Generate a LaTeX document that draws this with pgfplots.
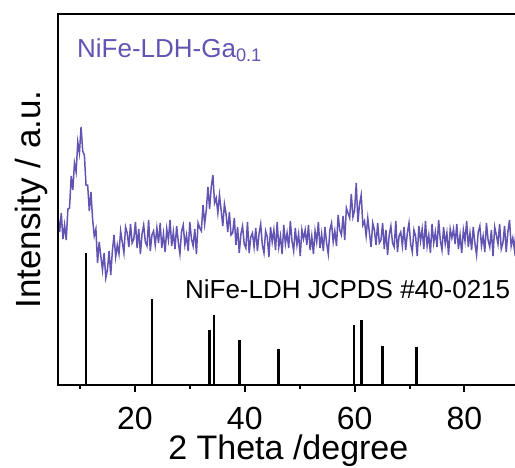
\documentclass[border=0pt]{standalone}
\usepackage{fontspec}
\setmainfont{Liberation Sans}
\usepackage{pgfplots}
\pgfplotsset{compat=1.18}
\definecolor{curve}{RGB}{98,84,178}
\begin{document}
\begin{tikzpicture}
\begin{axis}[name=ax,
  at={(0,0)}, anchor=south west,
  scale only axis, width=457pt, height=371pt,
  xmin=6, xmax=89.2, ymin=0, ymax=371,
  separate axis lines,
  axis x line=box, axis y line=left,
  x axis line style={line width=2.6pt, -},
  y axis line style={line width=2.6pt, -},
  xtick={20,40,60,80}, minor xtick={10,30,50,70,90},
  xtick pos=bottom, ytick=\empty,
  tick align=outside,
  major tick length=7pt, minor tick length=4pt,
  every tick/.style={black, line width=2pt},
  /pgf/number format/assume math mode=true,
  xticklabel style={font=\fontsize{32}{36}\selectfont, anchor=base, yshift=-37pt, inner sep=0pt},
  xlabel={2 Theta /degree},
  xlabel style={font=\fontsize{34}{40}\selectfont, at={(axis description cs:0.504,-0.2)}, anchor=base, inner sep=0pt},
  ylabel={Intensity / a.u.},
  ylabel style={font=\fontsize{35}{40}\selectfont, at={(axis description cs:-0.022,0.5)}, anchor=south, inner sep=0pt},
]
\addplot[ycomb, black, line width=2.8pt, no markers] coordinates {
(11.1,132) (23.1,86) (33.6,55) (34.4,70) (39.0,45) (46.1,36) (59.9,60) (61.2,65) (65.1,39) (71.3,38)
};
\addplot[curve, line width=1.5pt, no markers] coordinates {
(6.0,169) (6.3,153) (6.6,172) (6.9,146) (7.2,160) (7.5,145) (7.8,176) (8.1,177) (8.4,209) (8.7,195)
(9.0,222) (9.3,213) (9.6,243) (9.9,232) (10.2,258) (10.5,234) (10.8,230) (11.1,200) (11.4,200) (11.7,174)
(12.0,193) (12.3,166) (12.6,149) (12.9,156) (13.2,122) (13.5,143) (13.8,129) (14.1,115) (14.4,132) (14.7,107)
(15.0,115) (15.3,134) (15.6,110) (15.9,134) (16.2,150) (16.5,128) (16.8,140) (17.1,131) (17.4,154) (17.7,143)
(18.0,132) (18.3,158) (18.6,152) (18.9,138) (19.2,161) (19.5,142) (19.8,146) (20.1,163) (20.4,137) (20.7,156)
(21.0,131) (21.3,151) (21.6,160) (21.9,143) (22.2,139) (22.5,165) (22.8,134) (23.1,150) (23.4,154) (23.7,140)
(24.0,157) (24.3,142) (24.6,162) (24.9,137) (25.2,151) (25.5,133) (25.8,156) (26.1,145) (26.4,165) (26.7,139)
(27.0,153) (27.3,136) (27.6,159) (27.9,143) (28.2,131) (28.5,154) (28.8,160) (29.1,140) (29.4,150) (29.7,134)
(30.0,163) (30.3,146) (30.6,139) (30.9,156) (31.2,131) (31.5,162) (31.8,157) (32.1,154) (32.4,180) (32.7,161)
(33.0,175) (33.3,198) (33.6,176) (33.9,198) (34.2,210) (34.5,182) (34.8,187) (35.1,172) (35.4,190) (35.7,175)
(36.0,159) (36.3,181) (36.6,171) (36.9,153) (37.2,173) (37.5,150) (37.8,152) (38.1,167) (38.4,140) (38.7,158)
(39.0,132) (39.3,151) (39.6,159) (39.9,141) (40.2,137) (40.5,163) (40.8,132) (41.1,148) (41.4,152) (41.7,138)
(42.0,157) (42.3,134) (42.6,151) (42.9,161) (43.2,140) (43.5,132) (43.8,154) (44.1,148) (44.4,128) (44.7,158)
(45.0,143) (45.3,155) (45.6,135) (45.9,163) (46.2,138) (46.5,149) (46.8,131) (47.1,160) (47.4,141) (47.7,152)
(48.0,137) (48.3,164) (48.6,144) (48.9,134) (49.2,157) (49.5,140) (49.8,151) (50.1,129) (50.4,155) (50.7,146)
(51.0,155) (51.3,140) (51.6,160) (51.9,135) (52.2,149) (52.5,131) (52.8,154) (53.1,143) (53.4,163) (53.7,137)
(54.0,151) (54.3,134) (54.6,158) (54.9,142) (55.2,131) (55.5,155) (55.8,162) (56.1,143) (56.4,154) (56.7,139)
(57.0,170) (57.3,155) (57.6,150) (57.9,169) (58.2,145) (58.5,177) (58.8,172) (59.1,167) (59.4,191) (59.7,168)
(60.0,175) (60.3,202) (60.6,163) (60.9,181) (61.2,190) (61.5,160) (61.8,164) (62.1,149) (62.4,167) (62.7,152)
(63.0,138) (63.3,162) (63.6,155) (63.9,140) (64.2,162) (64.5,142) (64.8,145) (65.1,162) (65.4,136) (65.7,155)
(66.0,130) (66.3,150) (66.6,159) (66.9,142) (67.2,138) (67.5,164) (67.8,133) (68.1,149) (68.4,153) (68.7,139)
(69.0,158) (69.3,135) (69.6,152) (69.9,162) (70.2,141) (70.5,133) (70.8,155) (71.1,149) (71.4,129) (71.7,159)
(72.0,144) (72.3,156) (72.6,136) (72.9,164) (73.2,139) (73.5,150) (73.8,132) (74.1,161) (74.4,142) (74.7,153)
(75.0,138) (75.3,165) (75.6,145) (75.9,135) (76.2,158) (76.5,141) (76.8,152) (77.1,130) (77.4,156) (77.7,147)
(78.0,156) (78.3,141) (78.6,161) (78.9,136) (79.2,150) (79.5,132) (79.8,155) (80.1,144) (80.4,164) (80.7,138)
(81.0,152) (81.3,135) (81.6,158) (81.9,142) (82.2,130) (82.5,153) (82.8,159) (83.1,139) (83.4,149) (83.7,133)
(84.0,162) (84.3,145) (84.6,138) (84.9,155) (85.2,129) (85.5,158) (85.8,150) (86.1,141) (86.4,161) (86.7,136)
(87.0,142) (87.3,159) (87.6,133) (87.9,153) (88.2,165) (88.5,139) (88.8,147) (89.1,135) (89.4,156)
};
\node[anchor=base west, inner sep=0pt, text=curve, font=\fontsize{26}{30}\selectfont] at (axis cs:9.45,328) {NiFe-LDH-Ga\textsubscript{0.1}};
\node[anchor=base west, inner sep=0pt, font=\fontsize{26}{30}\selectfont] at (axis cs:29.1,87) {NiFe-LDH JCPDS \#40-0215};
\end{axis}
\draw[line width=2.6pt, line join=miter] ([xshift=20pt]ax.south east) -- (ax.south west) -- (ax.north west) -- ([xshift=20pt]ax.north east);
\pgfresetboundingbox
\useasboundingbox ([shift={(-58pt,-82pt)}]ax.south west) rectangle ([shift={(0pt,14pt)}]ax.north east);
\end{tikzpicture}
\end{document}
